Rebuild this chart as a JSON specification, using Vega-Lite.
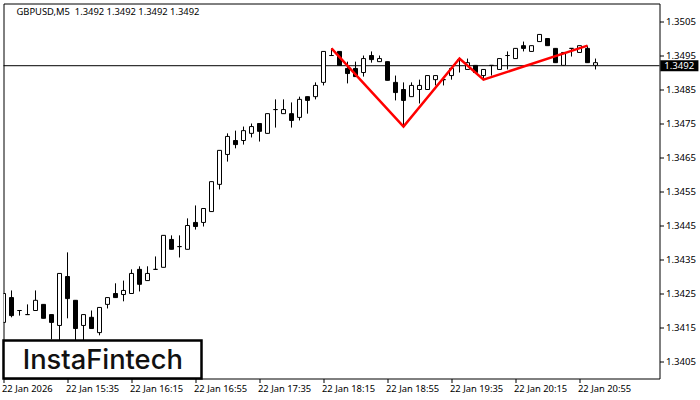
{
  "$schema": "https://vega.github.io/schema/vega-lite/v6.json",
  "description": "GBPUSD M5 candlesticks with a red pattern line.",
  "width": 656,
  "height": 375,
  "autosize": "none",
  "padding": {"left": 3.5, "top": 3.5, "right": 40.5, "bottom": 21.5},
  "background": "#ffffff",
  "config": {
    "view": {"stroke": "#000000", "strokeWidth": 1},
    "font": "DejaVu Sans"
  },
  "title": {
    "text": "GBPUSD,M5\u00a0 1.3492 1.3492 1.3492 1.3492",
    "anchor": "start",
    "font": "Noto Sans",
    "fontSize": 9.4,
    "fontWeight": "normal",
    "color": "#000000",
    "dx": 15,
    "offset": -14
  },
  "datasets": {
    "candles": [
      {"time":"2026-01-22T14:55:00Z","open":1.34165,"high":1.3425,"low":1.34165,"close":1.3425},
      {"time":"2026-01-22T15:00:00Z","open":1.34238,"high":1.34259,"low":1.3418,"close":1.34185},
      {"time":"2026-01-22T15:05:00Z","open":1.342,"high":1.342,"low":1.34185,"close":1.342},
      {"time":"2026-01-22T15:10:00Z","open":1.34188,"high":1.34218,"low":1.34188,"close":1.34188},
      {"time":"2026-01-22T15:15:00Z","open":1.342,"high":1.34259,"low":1.342,"close":1.3423},
      {"time":"2026-01-22T15:20:00Z","open":1.34218,"high":1.34218,"low":1.34177,"close":1.34177},
      {"time":"2026-01-22T15:25:00Z","open":1.34188,"high":1.34188,"low":1.34115,"close":1.34165},
      {"time":"2026-01-22T15:30:00Z","open":1.34156,"high":1.34309,"low":1.34097,"close":1.34309},
      {"time":"2026-01-22T15:35:00Z","open":1.343,"high":1.34371,"low":1.34177,"close":1.34235},
      {"time":"2026-01-22T15:40:00Z","open":1.3423,"high":1.3423,"low":1.34097,"close":1.34147},
      {"time":"2026-01-22T15:45:00Z","open":1.34156,"high":1.34188,"low":1.34106,"close":1.34188},
      {"time":"2026-01-22T15:50:00Z","open":1.3418,"high":1.342,"low":1.34147,"close":1.34147},
      {"time":"2026-01-22T15:55:00Z","open":1.34135,"high":1.34209,"low":1.34127,"close":1.34209},
      {"time":"2026-01-22T16:00:00Z","open":1.34218,"high":1.34238,"low":1.34206,"close":1.34238},
      {"time":"2026-01-22T16:05:00Z","open":1.3425,"high":1.3428,"low":1.34238,"close":1.34238},
      {"time":"2026-01-22T16:10:00Z","open":1.34247,"high":1.34288,"low":1.34227,"close":1.34259},
      {"time":"2026-01-22T16:15:00Z","open":1.3425,"high":1.34321,"low":1.3425,"close":1.34309},
      {"time":"2026-01-22T16:20:00Z","open":1.34321,"high":1.3433,"low":1.34256,"close":1.34277},
      {"time":"2026-01-22T16:25:00Z","open":1.34288,"high":1.3433,"low":1.34288,"close":1.34309},
      {"time":"2026-01-22T16:30:00Z","open":1.34321,"high":1.34359,"low":1.34321,"close":1.34321},
      {"time":"2026-01-22T16:35:00Z","open":1.34327,"high":1.34421,"low":1.34327,"close":1.34421},
      {"time":"2026-01-22T16:40:00Z","open":1.34409,"high":1.34421,"low":1.3438,"close":1.3438},
      {"time":"2026-01-22T16:45:00Z","open":1.34388,"high":1.34421,"low":1.34356,"close":1.34388},
      {"time":"2026-01-22T16:50:00Z","open":1.3438,"high":1.34471,"low":1.3438,"close":1.3445},
      {"time":"2026-01-22T16:55:00Z","open":1.34459,"high":1.34509,"low":1.34438,"close":1.34447},
      {"time":"2026-01-22T17:00:00Z","open":1.34459,"high":1.345,"low":1.34447,"close":1.345},
      {"time":"2026-01-22T17:05:00Z","open":1.34491,"high":1.34579,"low":1.34491,"close":1.34579},
      {"time":"2026-01-22T17:10:00Z","open":1.34571,"high":1.34671,"low":1.34556,"close":1.34671},
      {"time":"2026-01-22T17:15:00Z","open":1.34659,"high":1.34721,"low":1.34638,"close":1.34712},
      {"time":"2026-01-22T17:20:00Z","open":1.347,"high":1.34729,"low":1.34677,"close":1.34688},
      {"time":"2026-01-22T17:25:00Z","open":1.347,"high":1.34741,"low":1.34688,"close":1.34729},
      {"time":"2026-01-22T17:30:00Z","open":1.34721,"high":1.3475,"low":1.34709,"close":1.34741},
      {"time":"2026-01-22T17:35:00Z","open":1.3475,"high":1.3475,"low":1.34697,"close":1.34727},
      {"time":"2026-01-22T17:40:00Z","open":1.34721,"high":1.34779,"low":1.34721,"close":1.34779},
      {"time":"2026-01-22T17:45:00Z","open":1.34791,"high":1.34821,"low":1.34738,"close":1.34791},
      {"time":"2026-01-22T17:50:00Z","open":1.34779,"high":1.34821,"low":1.34779,"close":1.34791},
      {"time":"2026-01-22T17:55:00Z","open":1.34779,"high":1.34812,"low":1.34738,"close":1.34759},
      {"time":"2026-01-22T18:00:00Z","open":1.34768,"high":1.34829,"low":1.34759,"close":1.34821},
      {"time":"2026-01-22T18:05:00Z","open":1.34829,"high":1.34829,"low":1.34779,"close":1.34818},
      {"time":"2026-01-22T18:10:00Z","open":1.34829,"high":1.34871,"low":1.34821,"close":1.34862},
      {"time":"2026-01-22T18:15:00Z","open":1.34871,"high":1.34962,"low":1.34862,"close":1.34962},
      {"time":"2026-01-22T18:20:00Z","open":1.3495,"high":1.34971,"low":1.3495,"close":1.3495},
      {"time":"2026-01-22T18:25:00Z","open":1.34962,"high":1.34962,"low":1.34921,"close":1.34921},
      {"time":"2026-01-22T18:30:00Z","open":1.34912,"high":1.34932,"low":1.34868,"close":1.34897},
      {"time":"2026-01-22T18:35:00Z","open":1.34912,"high":1.34932,"low":1.34888,"close":1.34888},
      {"time":"2026-01-22T18:40:00Z","open":1.349,"high":1.3495,"low":1.34888,"close":1.34941},
      {"time":"2026-01-22T18:45:00Z","open":1.3495,"high":1.34962,"low":1.34929,"close":1.34938},
      {"time":"2026-01-22T18:50:00Z","open":1.34932,"high":1.3495,"low":1.34932,"close":1.34941},
      {"time":"2026-01-22T18:55:00Z","open":1.34932,"high":1.34932,"low":1.34877,"close":1.34877},
      {"time":"2026-01-22T19:00:00Z","open":1.34871,"high":1.34891,"low":1.34818,"close":1.34841},
      {"time":"2026-01-22T19:05:00Z","open":1.3485,"high":1.34871,"low":1.34741,"close":1.34818},
      {"time":"2026-01-22T19:10:00Z","open":1.34829,"high":1.34871,"low":1.34829,"close":1.34862},
      {"time":"2026-01-22T19:15:00Z","open":1.3485,"high":1.34879,"low":1.34809,"close":1.34862},
      {"time":"2026-01-22T19:20:00Z","open":1.3485,"high":1.34891,"low":1.3485,"close":1.34891},
      {"time":"2026-01-22T19:25:00Z","open":1.34879,"high":1.34891,"low":1.34862,"close":1.34891},
      {"time":"2026-01-22T19:30:00Z","open":1.34879,"high":1.34879,"low":1.34862,"close":1.34879},
      {"time":"2026-01-22T19:35:00Z","open":1.34891,"high":1.34912,"low":1.34879,"close":1.34912},
      {"time":"2026-01-22T19:40:00Z","open":1.34938,"high":1.34941,"low":1.349,"close":1.34938},
      {"time":"2026-01-22T19:45:00Z","open":1.34909,"high":1.34941,"low":1.34909,"close":1.34929},
      {"time":"2026-01-22T19:50:00Z","open":1.34921,"high":1.34921,"low":1.349,"close":1.349},
      {"time":"2026-01-22T19:55:00Z","open":1.34891,"high":1.34909,"low":1.34879,"close":1.34909},
      {"time":"2026-01-22T20:00:00Z","open":1.34921,"high":1.34921,"low":1.34891,"close":1.34921},
      {"time":"2026-01-22T20:05:00Z","open":1.34909,"high":1.34941,"low":1.34909,"close":1.34941},
      {"time":"2026-01-22T20:10:00Z","open":1.3495,"high":1.34962,"low":1.34909,"close":1.3495},
      {"time":"2026-01-22T20:15:00Z","open":1.34941,"high":1.34971,"low":1.34941,"close":1.34971},
      {"time":"2026-01-22T20:20:00Z","open":1.34979,"high":1.34991,"low":1.34962,"close":1.34971},
      {"time":"2026-01-22T20:25:00Z","open":1.34962,"high":1.34979,"low":1.34962,"close":1.34979},
      {"time":"2026-01-22T20:30:00Z","open":1.34991,"high":1.35012,"low":1.34991,"close":1.35012},
      {"time":"2026-01-22T20:35:00Z","open":1.35,"high":1.35,"low":1.34979,"close":1.34979},
      {"time":"2026-01-22T20:40:00Z","open":1.34971,"high":1.34971,"low":1.34929,"close":1.34929},
      {"time":"2026-01-22T20:45:00Z","open":1.34921,"high":1.34959,"low":1.34921,"close":1.34959},
      {"time":"2026-01-22T20:50:00Z","open":1.34971,"high":1.34971,"low":1.34947,"close":1.34971},
      {"time":"2026-01-22T20:55:00Z","open":1.34959,"high":1.34979,"low":1.34959,"close":1.34979},
      {"time":"2026-01-22T21:00:00Z","open":1.34971,"high":1.34979,"low":1.34929,"close":1.34929},
      {"time":"2026-01-22T21:05:00Z","open":1.34921,"high":1.34941,"low":1.34909,"close":1.34929}
    ]
  },
  "data": {"name": "candles"},
  "encoding": {
    "x": {
      "field": "time",
      "type": "temporal",
      "title": null,
      "scale": {"type": "utc", "domain": [1769093700000, 1769118300000], "padding": 0},
      "axis": {
        "values": [1769093700000, 1769096100000, 1769098500000, 1769100900000, 1769103300000, 1769105700000, 1769108100000, 1769110500000, 1769112900000, 1769115300000],
        "labelExpr": "utcFormat(datum.value, '%H:%M') == '14:55' ? '22 Jan 2026' : utcFormat(datum.value, '%d %b %H:%M')",
        "grid": false,
        "domain": false,
        "tickColor": "#000000",
        "tickSize": 4,
        "labelAlign": "left",
        "labelBaseline": "top",
        "labelPadding": 2,
        "labelOffset": -2,
        "labelFont": "Noto Sans",
        "labelFontSize": 9.4,
        "labelColor": "#000000",
        "labelFlush": false,
        "labelOverlap": false,
        "labelBound": false
      }
    },
    "y": {
      "type": "quantitative",
      "title": null,
      "scale": {"domain": [1.34, 1.35103], "nice": false, "zero": false},
      "axis": {
        "orient": "right",
        "values": [1.3405, 1.3415, 1.3425, 1.3435, 1.3445, 1.3455, 1.3465, 1.3475, 1.3485, 1.3495, 1.3505],
        "format": ".4f",
        "grid": false,
        "domain": false,
        "tickColor": "#000000",
        "tickSize": 4,
        "labelPadding": 2,
        "labelFont": "Noto Sans",
        "labelFontSize": 9.6,
        "labelColor": "#000000",
        "labelOverlap": false,
        "labelFlush": false
      }
    }
  },
  "layer": [
    {
      "data": {"values": [{"price": 1.3492}]},
      "mark": {"type": "rule", "color": "#000000", "strokeWidth": 1},
      "encoding": {"x": {"value": 0}, "x2": {"value": 656}, "y": {"field": "price"}}
    },
    {
      "mark": {"type": "rule", "color": "#000000", "strokeWidth": 1, "clip": true},
      "encoding": {"y": {"field": "low"}, "y2": {"field": "high"}}
    },
    {
      "mark": {"type": "bar", "size": 4, "stroke": "#000000", "strokeWidth": 1, "clip": true},
      "encoding": {
        "y": {"field": "open"},
        "y2": {"field": "close"},
        "fill": {"condition": {"test": "datum.open > datum.close", "value": "#000000"}, "value": "#ffffff"}
      }
    },
    {
      "data": {"values": [
        {"time": "2026-01-22T18:20:00Z", "price": 1.34971},
        {"time": "2026-01-22T19:05:00Z", "price": 1.34741},
        {"time": "2026-01-22T19:40:00Z", "price": 1.34941},
        {"time": "2026-01-22T19:55:00Z", "price": 1.34879},
        {"time": "2026-01-22T21:00:00Z", "price": 1.34979}
      ]},
      "mark": {"type": "line", "color": "#ff0000", "strokeWidth": 2.5},
      "encoding": {"y": {"field": "price"}}
    },
    {
      "data": {"values": [{"time": "2026-01-22T14:55:00Z", "time2": "2026-01-22T16:58:45Z", "top": 1.34112, "bottom": 1.34}]},
      "mark": {"type": "rect", "fill": "#ffffff", "stroke": "#000000", "strokeWidth": 2.5},
      "encoding": {"x2": {"field": "time2"}, "y": {"field": "top"}, "y2": {"field": "bottom"}}
    },
    {
      "data": {"values": [{"time": "2026-01-22T15:07:00Z", "price": 1.34052, "label": "InstaFintech"}]},
      "mark": {"type": "text", "align": "left", "baseline": "middle", "font": "Inter", "fontSize": 27.3, "fontWeight": 500, "color": "#111111"},
      "encoding": {"y": {"field": "price"}, "text": {"field": "label"}}
    },
    {
      "data": {"values": [{"time": "2026-01-22T21:45:30Z", "time2": "2026-01-22T22:09:20Z", "price": 1.3492}]},
      "mark": {"type": "rule", "color": "#000000", "strokeWidth": 11, "clip": false},
      "encoding": {"x2": {"field": "time2"}, "y": {"field": "price"}}
    },
    {
      "data": {"values": [{"time": "2026-01-22T21:48:00Z", "price": 1.3492, "label": "1.3492"}]},
      "mark": {"type": "text", "align": "left", "baseline": "middle", "font": "Noto Sans", "fontSize": 9.6, "color": "#ffffff"},
      "encoding": {"y": {"field": "price"}, "text": {"field": "label"}}
    }
  ]
}
